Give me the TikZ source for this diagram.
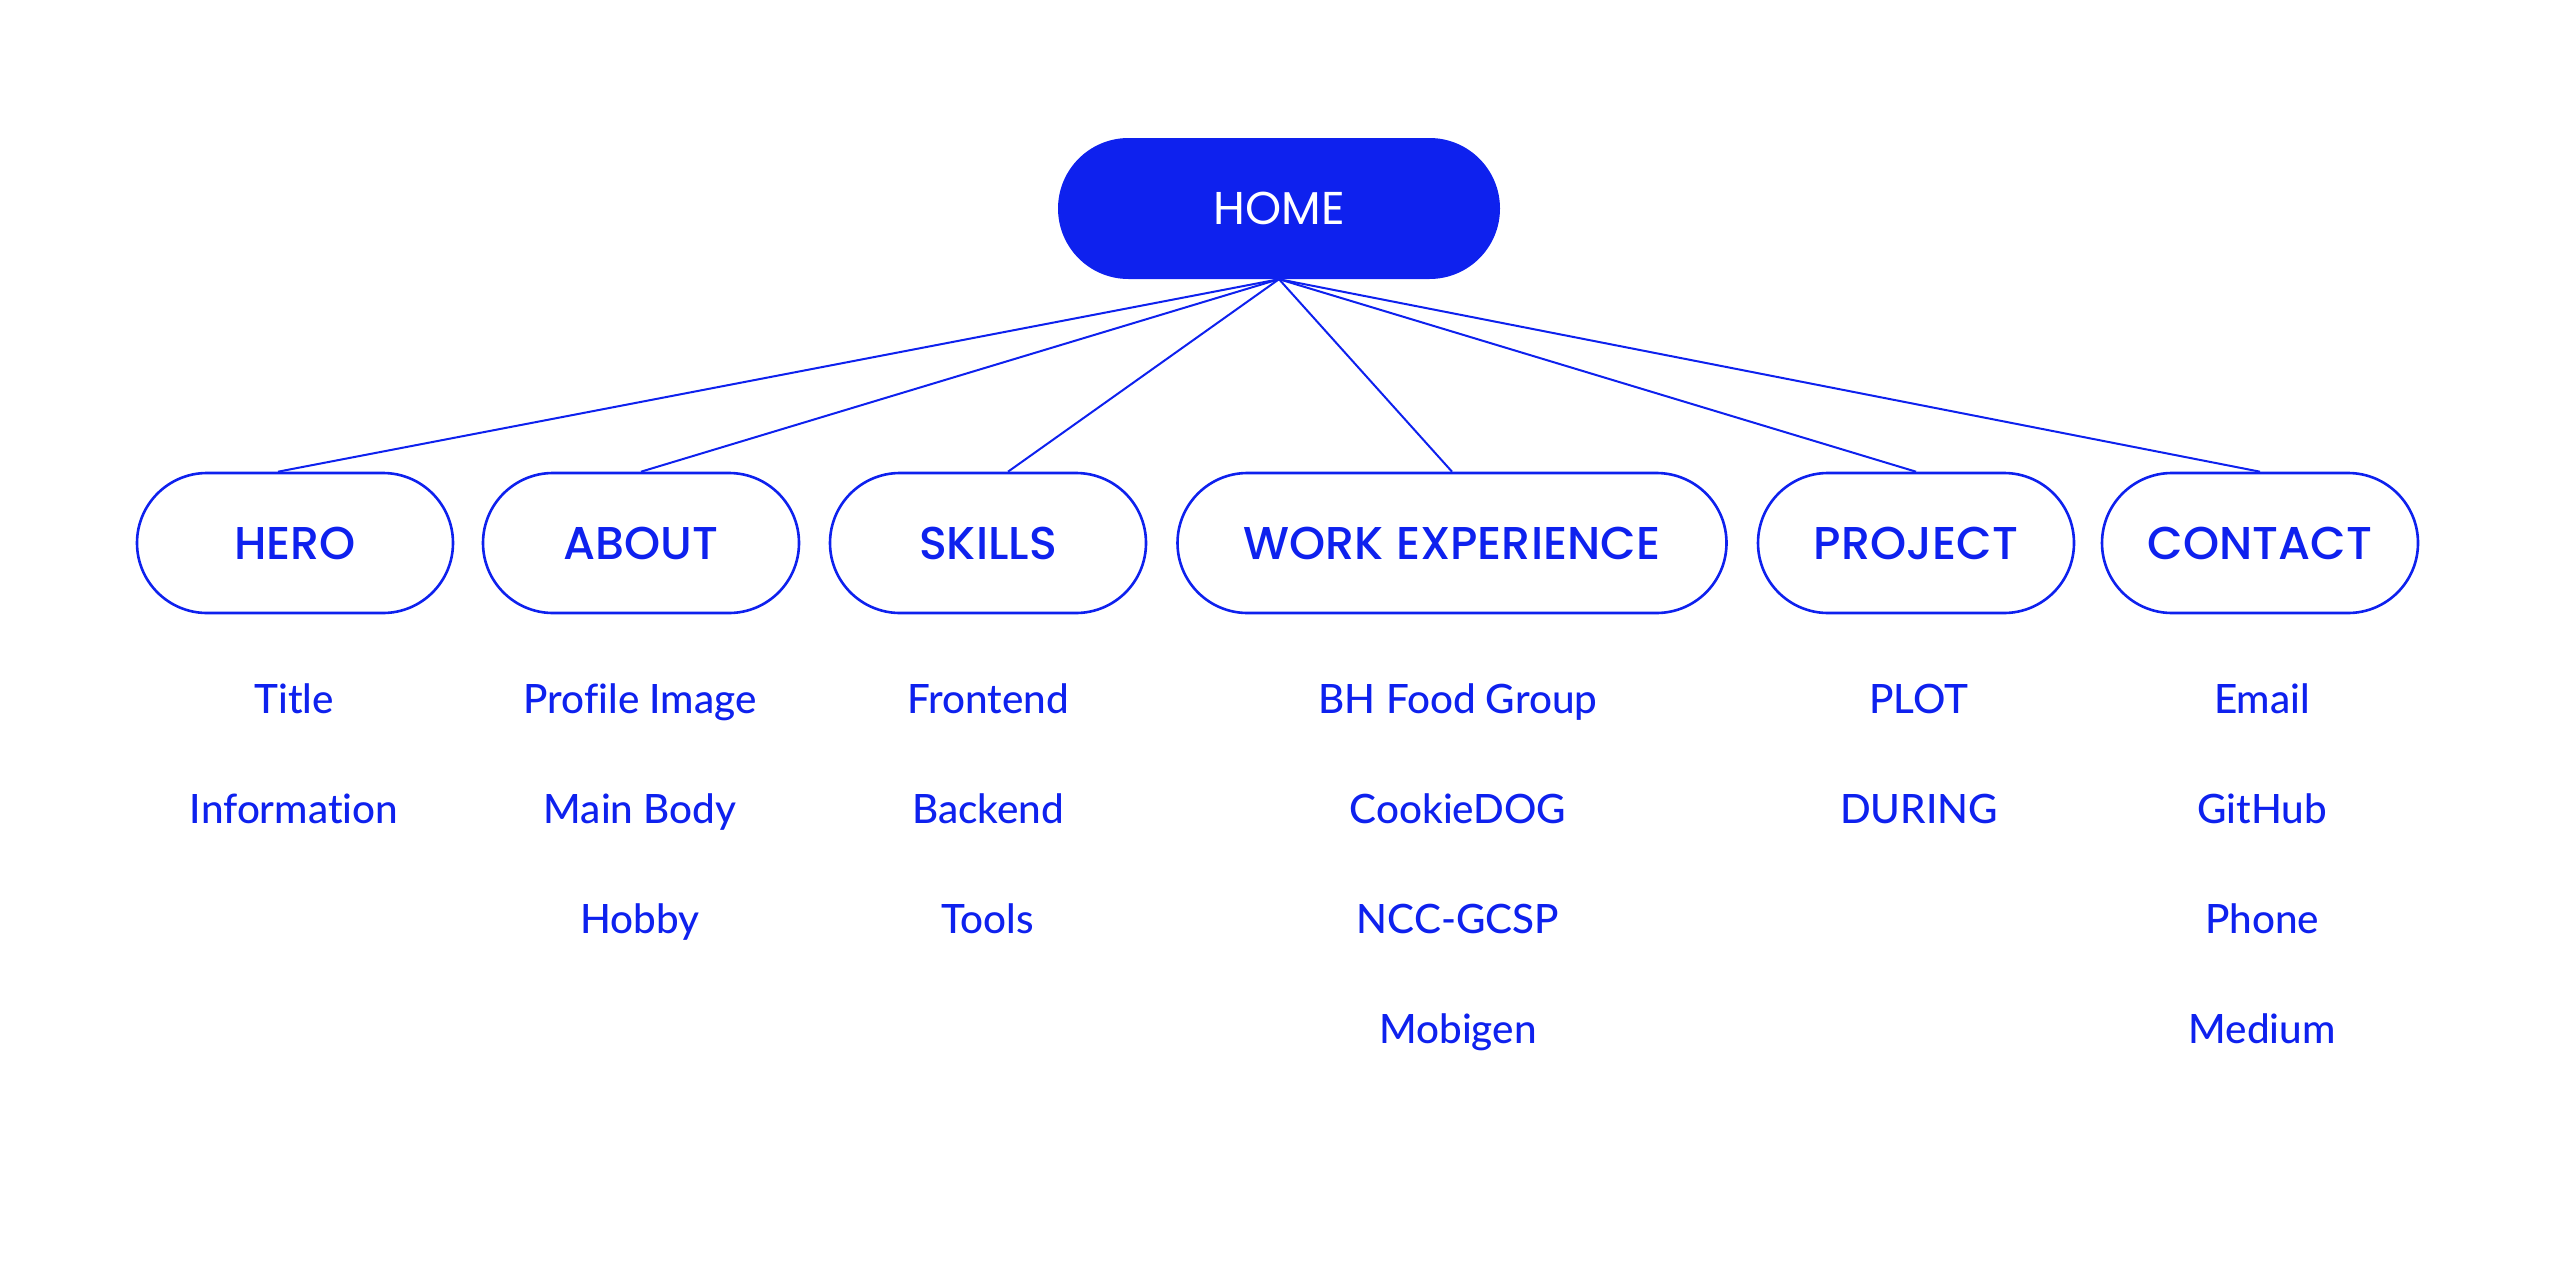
\documentclass[tikz,border=0pt]{standalone}
\usepackage{fontspec}
\IfFontExistsTF{Poppins Medium}{\setmainfont{Poppins Medium}}{\setmainfont{Poppins}}
\newfontfamily\homefont{Poppins}
\IfFontExistsTF{Lato Medium}{\newfontfamily\leaffont{Lato Medium}[Ligatures=NoCommon]}{\newfontfamily\leaffont{Lato}[Ligatures=NoCommon]}
\usetikzlibrary{shapes.misc}
\definecolor{brand}{RGB}{14,33,238}
\tikzset{
  x=1pt, y=-1pt,
  pill/.style={rounded rectangle, draw=brand, line width=2.6pt, fill=white,
    minimum height=140pt, minimum width=316pt, inner sep=0pt,
    text=brand, font=\fontsize{46}{56}\selectfont, text height=32.3pt, text depth=0pt},
  homepill/.style={rounded rectangle, fill=brand, draw=none,
    minimum height=141pt, minimum width=442pt, inner sep=0pt,
    text=white, font=\homefont\fontsize{46}{55}\selectfont, text height=32pt, text depth=0pt},
  leaf/.style={anchor=base, inner sep=0pt, text=brand, font=\leaffont\fontsize{40.4}{50}\selectfont},
  link/.style={draw=brand, line width=2pt}
}
\begin{document}
\begin{tikzpicture}
\useasboundingbox (0,0) rectangle (2560,1274);
\node[homepill] (home) at (1279,208.5) {HOME};
\node[pill] (hero) at (295,543) {HERO};
\node[pill] (about) at (641,543) {ABOUT};
\node[pill] (skills) at (988,543) {SKILLS};
\node[pill, minimum width=549pt] (work) at (1452,543) {WORK EXPERIENCE};
\node[pill] (project) at (1916,543) {PROJECT};
\node[pill] (contact) at (2260,543) {CONTACT};

\draw[link] (home.south) -- ([xshift=-17pt]hero.north);
\draw[link] (home.south) -- (about.north);
\draw[link] (home.south) -- ([xshift=20pt]skills.north);
\draw[link] (home.south) -- (work.north);
\draw[link] (home.south) -- (project.north);
\draw[link] (home.south) -- (contact.north);

\node[leaf] (t1) at (294,713) {Title};
\node[leaf] (t2) at (294,823) {Information};

\node[leaf] (a1) at (640,713) {Profile Image};
\node[leaf] (a2) at (640,823) {Main Body};
\node[leaf] (a3) at (640,933) {Hobby};

\node[leaf] (s1) at (988,713) {Frontend};
\node[leaf] (s2) at (988,823) {Backend};
\node[leaf] (s3) at (988,933) {Tools};

\node[leaf] (w1) at (1458,713) {BH Food Group};
\node[leaf] (w2) at (1458,823) {CookieDOG};
\node[leaf] (w3) at (1458,933) {NCC-GCSP};
\node[leaf] (w4) at (1458,1043) {Mobigen};

\node[leaf] (p1) at (1919,713) {PLOT};
\node[leaf] (p2) at (1919,823) {DURING};

\node[leaf] (c1) at (2262,713) {Email};
\node[leaf] (c2) at (2262,823) {GitHub};
\node[leaf] (c3) at (2262,933) {Phone};
\node[leaf] (c4) at (2262,1043) {Medium};
\end{tikzpicture}
\end{document}
